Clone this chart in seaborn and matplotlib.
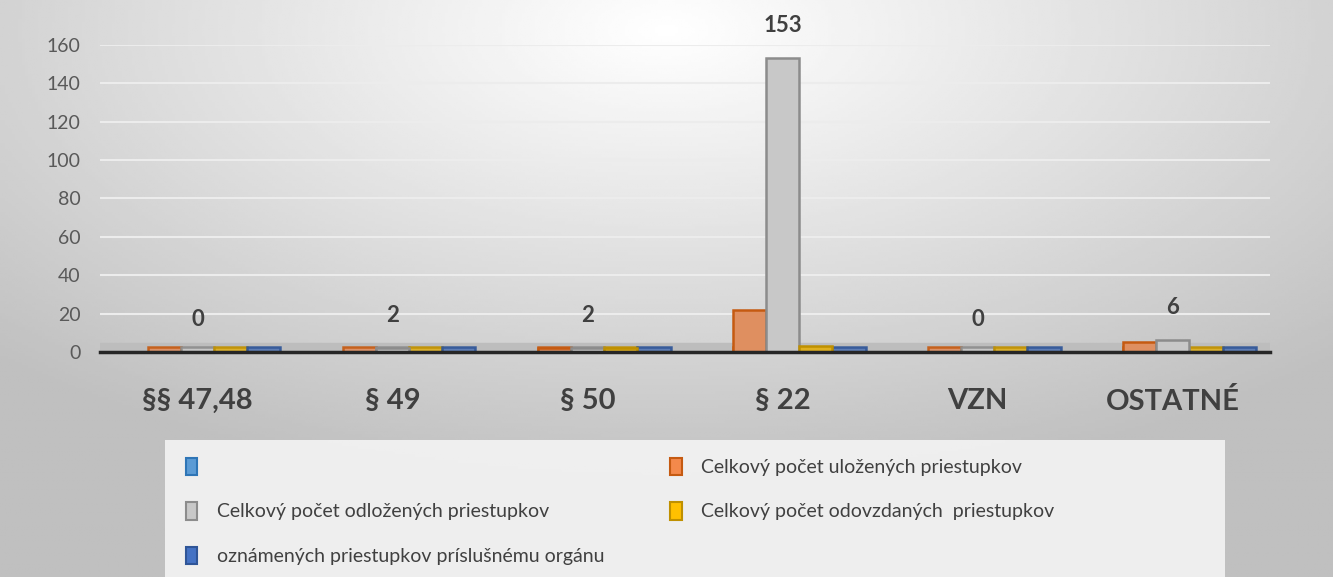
import numpy as np
import pandas as pd
import matplotlib.pyplot as plt
import matplotlib
from matplotlib.patches import Patch, Rectangle
import seaborn as sns

kategorie = ['§§ 47,48', '§ 49', '§ 50', '§ 22', 'VZN', 'OSTATNÉ']
serie = ['', 'Celkový počet uložených priestupkov', 'Celkový počet odložených priestupkov',
         'Celkový počet odovzdaných  priestupkov', 'oznámených priestupkov príslušnému orgánu']
prazdne = [0, 0, 0, 0, 0, 0]
ulozene = [0, 0, 2, 22, 0, 5]
odlozene = [0, 2, 2, 153, 0, 6]
odovzdane = [0, 0, 2, 3, 0, 0]
oznamene = [0, 0, 0, 0, 0, 0]
hodnoty = [prazdne, ulozene, odlozene, odovzdane, oznamene]

farby = ['#5b9bd5', '#f4894b', '#c8c8c8', '#ffc000', '#4472c4']
okraje = ['#2e75b6', '#c55a11', '#8c8c8c', '#bf9000', '#2f5597']

HRUBKA = 2.5  # hrubka "3D" dosky na podlahe

rows = []
for s, vals in zip(serie, hodnoty):
    for k, v in zip(kategorie, vals):
        rows.append({'kat': k, 'serie': s if s else ' ', 'val': v, 'doska': HRUBKA})
data = pd.DataFrame(rows)

plt.rcParams['font.family'] = ['Lato', 'DejaVu Sans']

fig = plt.figure(figsize=(13.33, 5.77), dpi=100)

# gradient pozadie
bg = fig.add_axes([0, 0, 1, 1], zorder=-10)
xx, yy = np.meshgrid(np.linspace(-1, 1, 400), np.linspace(-1, 1, 200))
r = np.sqrt((xx * 0.9) ** 2 + ((yy + 0.9) * 0.8) ** 2)
bg.imshow(1 - np.clip(r, 0, 1.3) / 1.3, cmap='gray', vmin=-3.0, vmax=1, aspect='auto',
          extent=[0, 1, 0, 1], origin='upper')
bg.axis('off')

ax = fig.add_axes([0.075, 0.39, 0.878, 0.532])
ax.patch.set_alpha(0)
# dosky na podlahe
sns.barplot(data=data, x='kat', y='doska', hue='serie', palette=farby, width=0.85,
            ax=ax, legend=False, zorder=2, alpha=0.9)
sns.barplot(data=data, x='kat', y='val', hue='serie', palette=farby, width=0.85,
            ax=ax, legend=False, zorder=3)

ns = len(serie)
for j, bars in enumerate(ax.containers):
    i = j % ns
    for b in bars:
        b.set_edgecolor(okraje[i])
        b.set_linewidth(1.8)
        if i == 0 or b.get_height() == 0:
            b.set_visible(False)

# popisky nad sedymi stlpcami
for b, v in zip(ax.containers[ns + 2], odlozene):
    ax.annotate(str(v), (b.get_x() + b.get_width() / 2, v), xytext=(0, 16),
                textcoords='offset points', ha='center', va='bottom',
                fontsize=16, fontweight='bold', color='#404040')

ax.axhspan(0, 4.5, color='#bdbdbd', zorder=1)
ax.set_ylim(0, 160)
ax.set_yticks(range(0, 161, 20))
ax.yaxis.grid(True, color='#ececec', linewidth=1.5, zorder=0)
ax.set_axisbelow(True)
ax.set_xlabel('')
ax.set_ylabel('')
ax.tick_params(axis='y', length=0, labelsize=14, labelcolor='#595959', pad=14)
ax.tick_params(axis='x', length=0, labelsize=21, labelcolor='#404040', pad=26)
for t in ax.get_xticklabels():
    t.set_fontweight('bold')
for sp in ['top', 'right', 'left']:
    ax.spines[sp].set_visible(False)
ax.spines['bottom'].set_color('#262626')
ax.spines['bottom'].set_linewidth(2.5)
ax.spines['bottom'].set_zorder(5)

# ramik legendy
W, H = 1333, 577
fig.patches.append(Rectangle((165 / W, 0), (1225 - 165) / W, (H - 440) / H,
                             transform=fig.transFigure, facecolor='#f7f7f7', alpha=0.85,
                             edgecolor='none', zorder=-5))

# legenda
poradie = [0, 2, 4, 1, 3]
handles = [Patch(facecolor=farby[i], edgecolor=okraje[i], linewidth=1.5) for i in poradie]
labels = [serie[i] for i in poradie]
leg = fig.legend(handles, labels, ncol=2, loc='upper left', bbox_to_anchor=(168 / W, 1 - 440 / H),
                 fontsize=14, frameon=False, handlelength=0.6, handleheight=1.0,
                 labelspacing=1.35, borderpad=0.4, columnspacing=3.4, handletextpad=1.0,
                 labelcolor='#404040')

fig.savefig('out.png', dpi=100)
